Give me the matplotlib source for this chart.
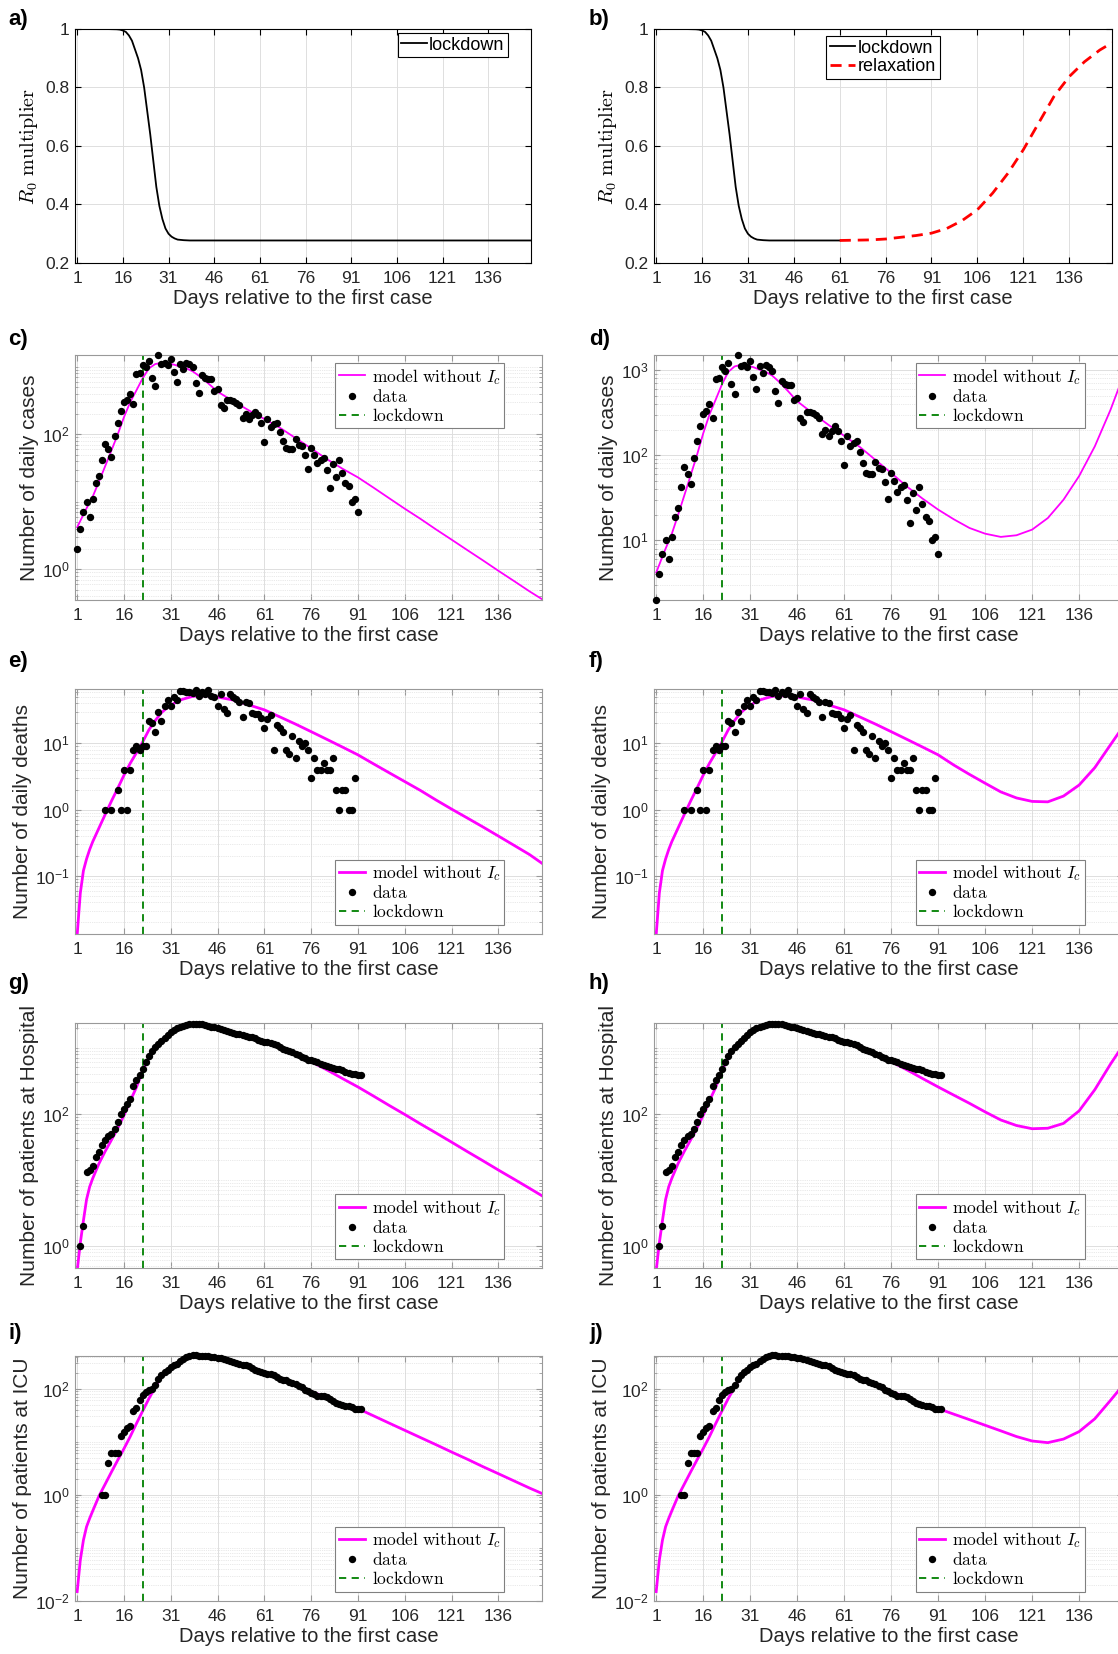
import numpy as np
import matplotlib
matplotlib.use("Agg")
import matplotlib.pyplot as plt
from matplotlib.ticker import LogLocator, NullFormatter
from matplotlib.font_manager import FontProperties

plt.rcParams['font.family'] = ['Liberation Sans', 'DejaVu Sans']
plt.rcParams['mathtext.fontset'] = 'custom'
plt.rcParams['mathtext.rm'] = 'Liberation Sans'
plt.rcParams['mathtext.it'] = 'Liberation Sans:italic'
plt.rcParams['mathtext.bf'] = 'Liberation Sans:bold'

# ---- R0 multiplier ----
r0_days = [1, 10, 14, 15, 16, 17, 18, 19, 20, 21, 22, 23, 24, 25, 26, 27, 28, 29,
           30, 31, 32, 33, 34, 36, 38, 40, 50, 61]
r0_lock = [1.0, 1.0, 0.999, 0.998, 0.995, 0.99, 0.978, 0.96, 0.93, 0.9, 0.86, 0.8,
           0.72, 0.64, 0.55, 0.46, 0.395, 0.35, 0.318, 0.3, 0.29, 0.284, 0.28,
           0.278, 0.277, 0.277, 0.277, 0.277]
r0_tail_days = [61, 90, 120, 150]
r0_tail = [0.277, 0.277, 0.277, 0.277]
relax_days = [61, 66, 71, 76, 81, 86, 91, 96, 101, 106, 111, 116, 121, 126, 131,
              136, 141, 146, 150]
relax_vals = [0.277, 0.278, 0.279, 0.282, 0.288, 0.294, 0.302, 0.318, 0.345, 0.382,
              0.439, 0.507, 0.587, 0.678, 0.769, 0.837, 0.888, 0.928, 0.953]

lockdown_day = 22

# ---- data ----
cases_days = list(range(1, 92))
cases = [2, 4, 7, 10, 6, 11, 19, 24, 42, 73,
         60, 46, 93, 148, 223, 306, 326, 400, 277, 785,
         810, 1075, 980, 1220, 680, 525, 1510, 1120, 1160, 1075,
         1290, 835, 600, 1120, 915, 1130, 1090, 980, 570, 405,
         750, 685, 660, 660, 445, 465, 275, 245, 325, 320,
         310, 295, 270, 177, 200, 170, 195, 218, 195, 145,
         77, 170, 130, 140, 145, 110, 80, 62, 61, 60,
         84, 70, 68, 49, 31, 62, 50, 37, 42, 45,
         30, 16, 36, 23, 42, 27, 19, 17, 10, 11, 7]

deaths_days = list(range(10, 91))
deaths = [1, 0, 1, 0, 2, 1, 4, 1, 4, 8,
          9, 8, 9, 9, 22, 20, 15, 30, 22, 36,
          45, 37, 50, 45, 62, 62, 59, 59, 58, 63,
          52, 59, 56, 64, 52, 50, 37, 55, 33, 29,
          55, 50, 47, 42, 25, 42, 41, 29, 28, 28,
          24, 17, 23, 27, 8, 19, 17, 15, 8, 7,
          13, 6, 11, 9, 10, 8, 3, 6, 4, 4,
          5, 4, 4, 6, 2, 1, 2, 2, 1, 1, 3]

hosp_days = list(range(2, 93))
hosp = [1, 2, 13, 14, 16, 22, 26, 34, 40, 46,
        49, 59, 75, 100, 118, 140, 168, 265, 320, 380,
        475, 600, 750, 880, 1010, 1130, 1270, 1390, 1540, 1690,
        1810, 1960, 2060, 2150, 2230, 2260, 2280, 2290, 2270, 2250,
        2200, 2140, 2080, 2020, 1960, 1900, 1850, 1800, 1740, 1680,
        1620, 1580, 1540, 1500, 1460, 1420, 1380, 1320, 1270, 1230,
        1200, 1170, 1130, 1080, 1020, 960, 920, 880, 850, 810,
        770, 720, 690, 650, 640, 620, 600, 560, 540, 520,
        510, 495, 480, 465, 450, 430, 415, 400, 395, 390, 385]

icu_days = list(range(9, 93))
icu = [1, 1, 4, 6, 6, 6, 13, 15, 18, 20,
       38, 44, 60, 75, 87, 93, 100, 115, 154, 178,
       206, 228, 255, 275, 295, 330, 366, 390, 411, 424,
       424, 420, 415, 410, 405, 400, 390, 380, 370, 361,
       345, 331, 318, 304, 293, 283, 273, 263, 240, 221,
       213, 206, 199, 192, 186, 181, 165, 154, 148, 143,
       135, 128, 121, 114, 105, 96, 89, 83, 78, 74,
       73, 72, 68, 65, 59, 54, 51, 49, 48, 47,
       45, 42, 42, 41]

# ---- model curves (read at these days) ----
model_days = [1, 2, 3, 4, 5, 6, 8, 10, 12, 14, 16, 18, 20, 22, 24, 26, 28, 30, 32,
              34, 36, 38, 40, 43, 46, 51, 56, 61, 66, 71, 76, 81, 86, 91,
              96, 101, 106, 111, 116, 121, 126, 131, 136, 141, 146, 150]

cases_model = [4.2, 5.2, 6.5, 8, 9.8, 12, 20, 34, 58, 100, 180, 300, 450, 680, 950,
               1100, 1150, 1130, 1080, 1010, 950, 860, 740, 570, 430, 310, 227, 169,
               125, 88, 62, 43, 31, 23]
cases_tail_lock = [16.2, 11.3, 7.9, 5.6, 3.9, 2.75, 1.93, 1.36, 0.95, 0.67, 0.47, 0.36]
cases_tail_relax = [17.7, 14.0, 12.0, 11.0, 11.5, 13.4, 18.3, 30, 57, 127, 340, 835]

deaths_model = [0.013, 0.055, 0.12, 0.18, 0.25, 0.33, 0.53, 0.85, 1.35, 2.1, 3.3, 5.0,
                7.2, 10.5, 16, 22, 29, 35, 40, 45, 48, 51, 52, 52, 50, 45, 38, 32, 25,
                19.5, 15, 11.5, 8.8, 6.7]
deaths_tail_lock = [4.9, 3.6, 2.65, 1.95, 1.4, 1.02, 0.75, 0.55, 0.40, 0.29, 0.21, 0.155]
deaths_tail_relax = [4.7, 3.4, 2.5, 1.85, 1.5, 1.33, 1.31, 1.6, 2.35, 4.3, 9.5, 17.8]

hosp_model = [0.42, 1.1, 2.4, 5.0, 7.8, 10.5, 17.6, 27, 40, 60, 94, 155, 250, 450, 700,
              1000, 1270, 1540, 1810, 2020, 2170, 2240, 2240, 2150, 1960, 1670, 1440,
              1200, 980, 780, 610, 460, 340, 253]
hosp_tail_lock = [184, 133, 97, 70, 51, 37, 26.7, 19.4, 14, 10.2, 7.4, 5.7]
hosp_tail_relax = [190, 143, 106, 80, 66, 59, 60, 71, 110, 230, 560, 1080]

icu_model = [0.015, 0.059, 0.14, 0.25, 0.36, 0.5, 0.95, 1.6, 2.7, 4.5, 7.4, 12.5, 22,
             38, 65, 105, 170, 225, 275, 330, 380, 410, 415, 405, 380, 320, 263, 206,
             155, 122, 88, 68, 51, 42]
icu_tail_lock = [30.7, 22.4, 16.4, 12, 8.8, 6.4, 4.7, 3.4, 2.5, 1.83, 1.34, 1.06]
icu_tail_relax = [33, 26, 20.4, 16, 12.5, 10.3, 9.6, 11.2, 15.5, 27, 60, 116]

xticks = list(range(1, 137, 15))
W, H = 1118, 1654
fig = plt.figure(figsize=(W / 100, H / 100), dpi=100)


def make_ax(left, top, width, height):
    return fig.add_axes([left / W, 1 - (top + height) / H, width / W, height / H])


def style_ax(ax, spine_color):
    ax.set_xlim(0.3, 150)
    ax.set_xticks(xticks)
    ax.tick_params(which='both', direction='in', top=True, right=True,
                   labelsize=12.5, colors=spine_color, labelcolor='#262626')
    ax.tick_params(which='major', length=4)
    ax.tick_params(which='minor', length=2)
    ax.tick_params(axis='x', pad=6)
    ax.tick_params(axis='y', pad=4)
    for s in ax.spines.values():
        s.set_color(spine_color)
        s.set_linewidth(0.8)
    ax.set_xlabel('Days relative to the first case', fontsize=14.5, color='#262626',
                  labelpad=2)
    ax.set_axisbelow(True)


legend_font = FontProperties(family='DejaVu Serif', size=12.5, math_fontfamily='cm')


def log_panel(ax, mx, my, dx, dy, ylim, yticks, ylabel, loc, anchor, lw):
    ax.set_yscale('log')
    dx = np.array(dx)
    dy = np.array(dy, dtype=float)
    keep = dy > 0
    ax.plot(mx, my, color='#ff00ff', lw=lw, label=r'$\mathrm{model\ without}\ I_c$')
    ax.plot(dx[keep], dy[keep], 'o', color='k', ms=5.3, mew=0,
            label=r'$\mathrm{data}$', clip_on=False, zorder=3)
    ax.axvline(lockdown_day, color='#008000', ls=(0, (4, 3)), lw=1.3,
               label=r'$\mathrm{lockdown}$')
    ax.set_ylim(*ylim)
    ax.set_yticks(yticks)
    ax.yaxis.set_minor_locator(LogLocator(base=10, subs=np.arange(1, 10), numticks=30))
    ax.yaxis.set_minor_formatter(NullFormatter())
    ax.grid(True, which='major', color='#dedede', lw=0.7)
    ax.grid(True, which='minor', axis='y', color='#d4d4d4', lw=0.5, ls=':')
    style_ax(ax, '#999999')
    ax.set_ylabel(ylabel, fontsize=15, color='#262626', labelpad=2)
    leg = ax.legend(loc=loc, bbox_to_anchor=anchor, prop=legend_font, fancybox=False,
                    framealpha=1, edgecolor='#808080', borderaxespad=0,
                    handlelength=1.5, handletextpad=0.4, labelspacing=0.12,
                    borderpad=0.2)
    leg.get_frame().set_linewidth(0.8)


# ---- panel a ----
ax = make_ax(75, 29, 456, 234)
ax.plot(r0_days + r0_tail_days[1:], r0_lock + r0_tail[1:], color='k', lw=1.3,
        label='lockdown')
ax.set_ylim(0.2, 1)
ax.set_yticks([0.2, 0.4, 0.6, 0.8, 1.0])
ax.set_yticklabels(['0.2', '0.4', '0.6', '0.8', '1'])
ax.grid(True, color='#dedede', lw=0.7)
style_ax(ax, 'k')
ax.set_ylabel(r'$R_0\ \mathrm{multiplier}$', math_fontfamily='cm', fontsize=14.5)
leg = ax.legend(loc='upper right', bbox_to_anchor=(0.95, 0.983), fontsize=13,
                fancybox=False, framealpha=1, edgecolor='k', borderaxespad=0,
                handlelength=1.4, handletextpad=0.15, borderpad=0.2)
leg.get_frame().set_linewidth(0.8)

# ---- panel b ----
ax = make_ax(654, 29, 458, 234)
ax.plot(r0_days, r0_lock, color='k', lw=1.3, label='lockdown')
ax.plot(relax_days, relax_vals, color='#ff0000', lw=2, ls=(0, (4, 2.5)),
        label='relaxation')
ax.set_ylim(0.2, 1)
ax.set_yticks([0.2, 0.4, 0.6, 0.8, 1.0])
ax.set_yticklabels(['0.2', '0.4', '0.6', '0.8', '1'])
ax.grid(True, color='#dedede', lw=0.7)
style_ax(ax, 'k')
ax.set_ylabel(r'$R_0\ \mathrm{multiplier}$', math_fontfamily='cm', fontsize=14.5)
leg = ax.legend(loc='upper center', bbox_to_anchor=(0.5, 0.97), fontsize=13,
                fancybox=False, framealpha=1, edgecolor='k', borderaxespad=0,
                handlelength=1.4, handletextpad=0.15, labelspacing=0.1, borderpad=0.2)
leg.get_frame().set_linewidth(0.8)

# ---- panels c-j ----
rows = [
    (355, cases_model, cases_tail_lock, cases_tail_relax, cases_days, cases,
     (0.35, 1500), (2, 1500), [1e0, 1e2], [1e1, 1e2, 1e3],
     'Number of daily cases', 'upper right', 0.967, 1.3),
    (689, deaths_model, deaths_tail_lock, deaths_tail_relax, deaths_days, deaths,
     (0.0133, 66), (0.0133, 66), [1e-1, 1e0, 1e1], [1e-1, 1e0, 1e1],
     'Number of daily deaths', 'lower right', 0.037, 2.0),
    (1023, hosp_model, hosp_tail_lock, hosp_tail_relax, hosp_days, hosp,
     (0.46, 2350), (0.46, 2350), [1e0, 1e2], [1e0, 1e2],
     'Number of patients at Hospital', 'lower right', 0.036, 2.0),
    (1356, icu_model, icu_tail_lock, icu_tail_relax, icu_days, icu,
     (0.01, 411), (0.01, 411), [1e-2, 1e0, 1e2], [1e-2, 1e0, 1e2],
     'Number of patients at ICU', 'lower right', 0.037, 2.0),
]

for (top, shared, tail_l, tail_r, dx, dy, ylim_l, ylim_r, yt_l, yt_r,
     ylabel, loc, ay, lw) in rows:
    ax = make_ax(75, top, 467, 245)
    log_panel(ax, model_days, shared + tail_l, dx, dy, ylim_l, yt_l, ylabel,
              loc, (0.919, ay), lw)
    ax = make_ax(654, top, 469, 245)
    log_panel(ax, model_days, shared + tail_r, dx, dy, ylim_r, yt_r, ylabel,
              loc, (0.919, ay), lw)

# panel letters
letters = [('a)', 8, 19), ('b)', 589, 19), ('c)', 8, 340), ('d)', 589, 340),
           ('e)', 8, 662), ('f)', 589, 662), ('g)', 8, 984), ('h)', 589, 984),
           ('i)', 8, 1334), ('j)', 589, 1334)]
for lab, x, y in letters:
    fig.text(x / W, 1 - y / H, lab, fontsize=16, fontweight='bold', va='center',
             ha='left')

fig.savefig('out.png', dpi=100)
